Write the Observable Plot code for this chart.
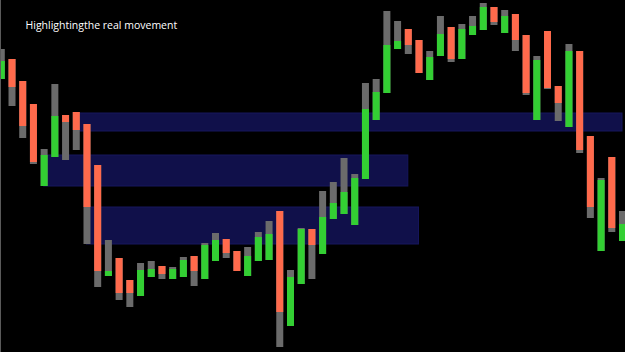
<!DOCTYPE html>
<html>
<head>
<meta charset="utf-8">
<script src="https://cdn.jsdelivr.net/npm/d3@7"></script>
<script src="https://cdn.jsdelivr.net/npm/@observablehq/plot@0.6"></script>
<style>
  html, body { margin: 0; padding: 0; background: #000; }
  #wrap { position: relative; width: 625px; height: 352px; overflow: hidden; }
  #wrap::after { content: ""; position: absolute; left: 0; top: 0; width: 1px; height: 100%; background: #5a5a5a; }
  svg { display: block; }
</style>
</head>
<body>
<div id="wrap"></div>
<script>
const title = "Highlightingthe real movement";

// OHLC per bar (bar index 0..58)
const open  = [1.3273,1.3293,1.3271,1.3248,1.3166,1.3195,1.3237,1.3240,1.3228,1.3187,
               1.3076,1.3094,1.3072,1.3056,1.3075,1.3086,1.3073,1.3075,1.3096,1.3073,
               1.3091,1.3113,1.3101,1.3076,1.3091,1.3092,1.3141,1.3026,1.3068,1.3123,
               1.3098,1.3133,1.3138,1.3127,1.3173,1.3232,1.3259,1.3303,1.3323,1.3312,
               1.3272,1.3296,1.3325,1.3293,1.3317,1.3322,1.3345,1.3319,1.3338,1.3317,
               1.3232,1.3321,1.3266,1.3225,1.3301,1.3216,1.3101,1.3195,1.3111];
const high  = [1.3303,1.3293,1.3271,1.3248,1.3203,1.3268,1.3237,1.3240,1.3228,1.3187,
               1.3112,1.3094,1.3072,1.3089,1.3091,1.3086,1.3085,1.3095,1.3096,1.3109,
               1.3119,1.3113,1.3101,1.3105,1.3120,1.3131,1.3141,1.3082,1.3124,1.3123,
               1.3161,1.3170,1.3194,1.3178,1.3269,1.3273,1.3341,1.3331,1.3323,1.3312,
               1.3301,1.3336,1.3325,1.3328,1.3336,1.3349,1.3345,1.3342,1.3338,1.3317,
               1.3296,1.3321,1.3266,1.3308,1.3301,1.3216,1.3174,1.3195,1.3141];
const low   = [1.3273,1.3246,1.3214,1.3188,1.3166,1.3195,1.3192,1.3202,1.3108,1.3065,
               1.3076,1.3052,1.3045,1.3056,1.3075,1.3073,1.3073,1.3075,1.3066,1.3073,
               1.3091,1.3094,1.3081,1.3076,1.3091,1.3092,1.3005,1.3026,1.3068,1.3073,
               1.3098,1.3133,1.3138,1.3127,1.3173,1.3232,1.3259,1.3303,1.3298,1.3279,
               1.3272,1.3296,1.3290,1.3293,1.3317,1.3322,1.3327,1.3319,1.3301,1.3257,
               1.3232,1.3263,1.3231,1.3225,1.3199,1.3134,1.3101,1.3120,1.3111];
const close = [1.3291,1.3265,1.3226,1.3190,1.3197,1.3236,1.3230,1.3222,1.3145,1.3081,
               1.3081,1.3059,1.3059,1.3082,1.3083,1.3078,1.3083,1.3092,1.3081,1.3107,
               1.3112,1.3099,1.3081,1.3096,1.3115,1.3118,1.3040,1.3075,1.3123,1.3107,
               1.3135,1.3149,1.3160,1.3174,1.3243,1.3260,1.3307,1.3311,1.3307,1.3279,
               1.3295,1.3318,1.3293,1.3323,1.3326,1.3345,1.3330,1.3336,1.3312,1.3259,
               1.3292,1.3264,1.3249,1.3301,1.3202,1.3145,1.3172,1.3124,1.3128];

// Highlighted zones: from bar index to bar index, price band
const zoneStart  = [7, 4, 8];
const zoneEnd    = [58, 38, 39];
const zoneTop    = [1.3239, 1.3197, 1.3145];
const zoneBottom = [1.3221, 1.3166, 1.3108];

const bars = open.map((o, i) => ({i, open: o, high: high[i], low: low[i], close: close[i]}));
const zones = zoneStart.map((s, k) => ({start: s, end: zoneEnd[k], top: zoneTop[k], bottom: zoneBottom[k]}));

const GREEN = "#33cf33", RED = "#ff6a4c", GREY = "#6b6b6b", NAVY = "#10104a";

const chart = Plot.plot({
  width: 625,
  height: 352,
  marginTop: 0, marginBottom: 0, marginLeft: 0, marginRight: 0,
  style: {background: "transparent", color: "#fff"},
  x: {domain: [-0.075, 58.28], axis: null},
  y: {domain: [1.3000, 1.3352], axis: null},
  marks: [
    Plot.rect(zones, {x1: "start", x2: "end", y1: "bottom", y2: "top", fill: NAVY, stroke: "#16165c", strokeWidth: 1}),
    Plot.ruleX(bars, {x: "i", y1: "low", y2: "high", stroke: GREY, strokeWidth: 7}),
    Plot.ruleX(bars, {x: "i", y1: "open", y2: "close", stroke: d => d.close >= d.open ? GREEN : RED, strokeWidth: 7}),
    Plot.text([title], {frameAnchor: "top-left", dx: 25, dy: 21, lineAnchor: "top", textAnchor: "start",
      text: d => d, fill: "#fff", fontSize: 10.5, fontFamily: "Open Sans, sans-serif"})
  ]
});
document.getElementById("wrap").appendChild(chart);
</script>
</body>
</html>
